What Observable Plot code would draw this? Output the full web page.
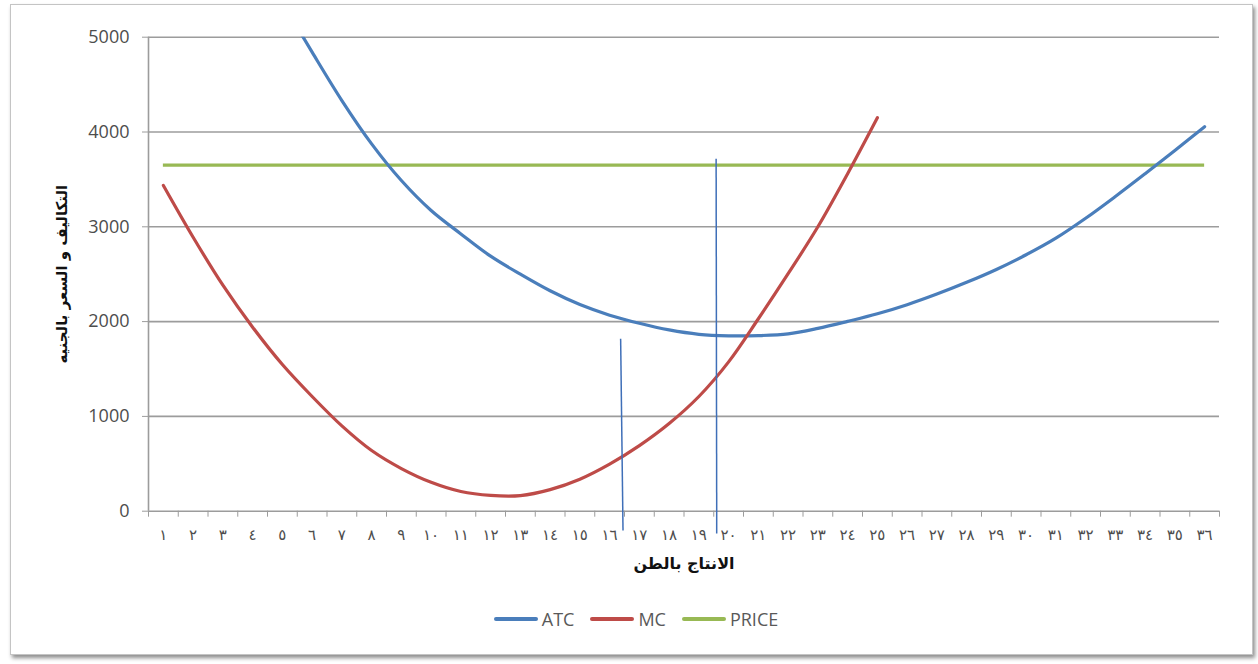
<!DOCTYPE html>
<html lang="ar">
<head>
<meta charset="utf-8">
<script src="https://cdn.jsdelivr.net/npm/d3@7"></script>
<script src="https://cdn.jsdelivr.net/npm/@observablehq/plot@0.6"></script>
<style>
  html, body { margin: 0; padding: 0; background: #ffffff; }
  body { width: 1258px; height: 664px; position: relative; overflow: hidden; font-family: "Open Sans", "DejaVu Sans", sans-serif; }
  #frame { position: absolute; left: 10px; top: 4px; width: 1243px; height: 651px; box-sizing: border-box;
           border: 1px solid #c4c4c4; background: #fff; box-shadow: 2px 3px 4px rgba(0,0,0,0.45); }
  #chart { position: absolute; left: 0; top: 0; width: 1258px; }
  #legend { position: absolute; left: 0; top: 607px; width: 1272px; display: flex; justify-content: center; align-items: center;
            font-size: 18px; color: #595959; font-family: "Open Sans", sans-serif; }
  .item { display: flex; align-items: center; margin: 0 8px; }
  .sw { width: 44px; height: 4px; border-radius: 2px; margin-right: 4px; }
</style>
</head>
<body>
<div id="frame"></div>
<div id="chart"></div>
<div id="legend"></div>
<script>
// ---- data ----
const quantities = [1,2,3,4,5,6,7,8,9,10,11,12,13,14,15,16,17,18,19,20,21,22,23,24,25,26,27,28,29,30,31,32,33,34,35,36];
const xTickLabels = ["١","٢","٣","٤","٥","٦","٧","٨","٩","١٠","١١","١٢","١٣","١٤","١٥","١٦","١٧","١٨","١٩","٢٠","٢١","٢٢","٢٣","٢٤","٢٥","٢٦","٢٧","٢٨","٢٩","٣٠","٣١","٣٢","٣٣","٣٤","٣٥","٣٦"];
const yTicks = [0, 1000, 2000, 3000, 4000, 5000];

const atcQty = [5,6,7,8,9,10,11,12,13,14,15,16,17,18,19,20,21,22,23,24,25,26,27,28,29,30,31,32,33,34,35,36];
const atcValues = [5370,4842,4332,3875,3488,3172,2925,2690,2500,2325,2180,2068,1982,1912,1866,1850,1852,1870,1928,2002,2082,2178,2290,2414,2550,2705,2880,3090,3320,3560,3805,4055];

const mcQty = [1,2,3,4,5,6,7,8,9,10,11,12,13,14,15,16,17,18,19,20,21,22,23,24,25];
const mcValues = [3436,2890,2384,1941,1547,1210,900,640,450,305,208,167,165,228,338,497,692,925,1210,1575,2030,2505,3000,3560,4150];

const priceLevel = 3650;

// hand-drawn guide lines in the original (quantity, cost)
const guideX1 = [16.37, 19.58];
const guideX2 = [16.45, 19.60];
const guideTop = [1819, 3717];
const guideBottom = [-204, -235];

const seriesNames = ["ATC", "MC", "PRICE"];
const seriesColors = ["#4a7ebb", "#be4b48", "#98b954"];

const xTitle = "الانتاج بالطن";
const yTitle = "التكاليف و السعر بالجنيه";

// ---- build tables ----
const atc = atcQty.map((q, i) => ({q, v: atcValues[i]}));
const mc = mcQty.map((q, i) => ({q, v: mcValues[i]}));
const guides = guideX1.map((x, i) => ({x1: x, x2: guideX2[i], y1: guideTop[i], y2: guideBottom[i]}));
const boundaries = quantities.map(q => q - 0.5).concat([quantities[quantities.length - 1] + 0.5]);

const W = 1258, H = 600;
const mL = 148, mR = 39, mT = 36.7, mB = H - 510.7;

const chart = Plot.plot({
  width: W, height: H,
  marginLeft: mL, marginRight: mR, marginTop: mT, marginBottom: mB,
  style: {fontFamily: "'Open Sans', 'DejaVu Sans', sans-serif", fontSize: "16px", color: "#595959", background: "transparent"},
  x: {type: "linear", domain: [0.5, 36.5]},
  y: {domain: [0, 5000]},
  marks: [
    Plot.gridY(yTicks, {stroke: "#9c9c9c", strokeOpacity: 1, strokeWidth: 1.6}),
    Plot.ruleX([0.5], {y1: 0, y2: 5000, stroke: "#9c9c9c", strokeWidth: 1.6}),
    Plot.axisY(yTicks, {tickSize: 6, tickPadding: 13, stroke: "#9c9c9c", fill: "#4d4d4d", fontSize: 18, label: null, tickFormat: d => String(d)}),
    Plot.axisX(boundaries, {tickSize: 6, stroke: "#9c9c9c", tickFormat: () => "", label: null}),
    Plot.axisX(quantities, {tickSize: 0, tickPadding: 18, fill: "#4d4d4d", fontSize: 15, label: null, tickFormat: (d) => xTickLabels[quantities.indexOf(d)]}),
    Plot.ruleY([priceLevel], {x1: 1, x2: 36, stroke: seriesColors[2], strokeWidth: 3.2}),
    Plot.line(atc, {x: "q", y: "v", stroke: seriesColors[0], strokeWidth: 3.2, curve: "catmull-rom", clip: true}),
    Plot.line(mc, {x: "q", y: "v", stroke: seriesColors[1], strokeWidth: 3.2, curve: "catmull-rom", clip: true}),
    Plot.link(guides, {x1: "x1", y1: "y1", x2: "x2", y2: "y2", stroke: "#3f6fb8", strokeWidth: 1.5}),
    Plot.text([xTitle], {frameAnchor: "bottom", dy: 58, textAnchor: "middle", fontWeight: "bold", fontSize: 16, fill: "#111", fontFamily: "'DejaVu Sans', sans-serif"}),
    Plot.text([yTitle], {frameAnchor: "left", dx: -86, rotate: -90, textAnchor: "middle", fontWeight: "bold", fontSize: 15, fill: "#111", fontFamily: "'DejaVu Sans', sans-serif"})
  ]
});
document.getElementById("chart").appendChild(chart);

const legend = document.getElementById("legend");
seriesNames.forEach((name, i) => {
  const item = document.createElement("div");
  item.className = "item";
  const sw = document.createElement("span");
  sw.className = "sw";
  sw.style.background = seriesColors[i];
  const label = document.createElement("span");
  label.textContent = name;
  item.appendChild(sw);
  item.appendChild(label);
  legend.appendChild(item);
});
</script>
</body>
</html>
